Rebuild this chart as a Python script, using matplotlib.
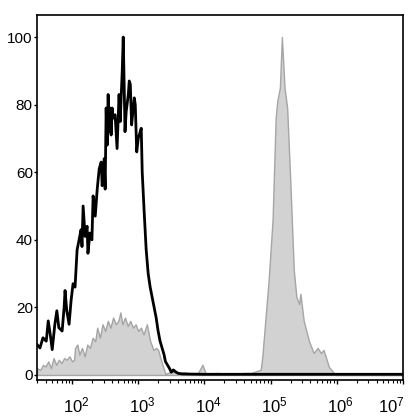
import numpy as np
import matplotlib
matplotlib.use("Agg")
import matplotlib.pyplot as plt
import matplotlib.transforms as mtransforms
from matplotlib.ticker import FixedLocator, LogLocator, NullFormatter

plt.rcParams['font.family'] = ['Liberation Sans', 'DejaVu Sans']
plt.rcParams['mathtext.fontset'] = 'custom'
plt.rcParams['mathtext.rm'] = 'Liberation Sans'
plt.rcParams['mathtext.it'] = 'Liberation Sans'

# black outline histogram (log10 of intensity, % of max)
black_logx = [1.47, 1.515, 1.56, 1.61, 1.64, 1.67, 1.70, 1.74, 1.77, 1.80, 1.85, 1.88,
              1.894, 1.92, 1.955, 1.985, 2.015, 2.045, 2.076, 2.106, 2.136, 2.15, 2.167,
              2.197, 2.227, 2.24, 2.27, 2.30, 2.318, 2.35, 2.38, 2.41, 2.44, 2.455, 2.485,
              2.50, 2.515, 2.53, 2.545, 2.56, 2.576, 2.59, 2.606, 2.62, 2.65, 2.68, 2.71,
              2.727, 2.758, 2.773, 2.788, 2.80, 2.818, 2.85, 2.864, 2.88, 2.90, 2.924,
              2.94, 2.955, 2.977, 3.0, 3.03, 3.045, 3.06, 3.09, 3.12, 3.15, 3.18, 3.21,
              3.24, 3.27, 3.30, 3.33, 3.36, 3.39, 3.41, 3.44, 3.47, 3.50, 3.53, 3.56,
              3.60, 3.67, 4.0, 5.0, 6.0, 7.0]
black_y = [9, 8, 11, 10, 16, 12, 7.5, 15, 19, 14, 13, 20,
           25, 19, 15, 22, 27, 26, 37, 40, 43, 38, 50,
           41, 44, 36, 42, 40, 53, 47, 55, 61, 63, 56, 64,
           55, 79, 68, 83, 72, 79, 71, 79, 76, 77, 67, 83,
           75, 90, 100, 85, 72, 78, 83, 87, 86, 74, 79,
           82, 80, 66, 70, 72, 73, 60, 48, 37, 30, 26, 23,
           20, 17, 13, 10, 8, 6, 4, 3, 2, 0.8, 1.5, 1,
           0.5, 0.3, 0.2, 0.2, 0.2, 0.2]

# gray filled histogram
gray_logx = [1.47, 1.52, 1.56, 1.60, 1.64, 1.68, 1.72, 1.76, 1.80, 1.84, 1.88, 1.92,
             1.96, 2.0, 2.03, 2.045, 2.08, 2.11, 2.15, 2.19, 2.23, 2.27, 2.31, 2.35,
             2.38, 2.42, 2.46, 2.50, 2.54, 2.58, 2.62, 2.66, 2.70, 2.73, 2.76, 2.80,
             2.84, 2.88, 2.92, 2.96, 3.0, 3.04, 3.08, 3.13, 3.18, 3.23, 3.27, 3.30,
             3.35, 3.41, 3.5, 3.6, 3.7, 3.8, 3.9, 3.97, 4.02, 4.2, 4.3, 4.4, 4.5,
             4.6, 4.70, 4.85, 4.875, 4.97, 5.03, 5.076, 5.10, 5.14, 5.17, 5.21, 5.25,
             5.30, 5.35, 5.39, 5.43, 5.45, 5.50, 5.58, 5.65, 5.71, 5.76, 5.80, 5.88,
             5.98, 7.0]
gray_y = [2, 1.5, 3, 2.5, 4, 2, 5, 3, 4.5, 3.5, 5, 4.5,
          5.5, 4, 4.5, 8, 9, 6, 8, 5.5, 9, 8, 11, 10,
          14, 11, 15, 13, 16, 14, 17, 15, 16, 18.5, 15, 17,
          14.5, 16, 14, 15, 13, 14, 12, 15, 10, 7.4, 8, 7.4,
          4, 0.3, 1, 0.5, 0.8, 0.3, 0.5, 3, 0.4, 0.6, 0.3, 0.5, 0.4,
          0.6, 0.6, 1.5, 5.5, 28, 46, 76, 81, 85, 100, 85, 79,
          56, 31, 23, 21, 24, 16, 10, 6.5, 8, 6.5, 7.4, 2.4,
          0, 0]

yticks = [0, 20, 40, 60, 80, 100]
xdecades = [2, 3, 4, 5, 6, 7]

fig = plt.figure(figsize=(4.11, 4.19), dpi=100)
ax = fig.add_axes([0.09, 0.093, 0.8905, 0.871])

ax.fill_between(10 ** np.array(gray_logx), gray_y, color='#d2d2d2',
                edgecolor='#a5a5a5', linewidth=1.0)
ax.plot(10 ** np.array(black_logx), black_y, color='black', linewidth=2)

ax.set_xscale('log')
ax.set_xlim(10 ** 1.47, 10 ** 7)
ax.set_ylim(-1.5, 106.5)

ax.xaxis.set_major_locator(FixedLocator([10 ** d for d in xdecades]))
ax.set_xticklabels(['$10^{%d}$' % d for d in xdecades])
ax.xaxis.set_minor_locator(LogLocator(base=10, subs=np.arange(2, 10), numticks=20))
ax.xaxis.set_minor_formatter(NullFormatter())
ax.tick_params(axis='x', which='major', length=3, width=1, pad=8, labelsize=12)
ax.tick_params(axis='x', which='minor', length=2, width=0.8)

# the "10" sits centred on each tick, the last label is pulled inside
labels = ax.get_xticklabels()
for i, lab in enumerate(labels):
    dx = 4 if i < len(labels) - 1 else -12
    lab.set_transform(lab.get_transform() +
                      mtransforms.ScaledTranslation(dx / 100, 0, fig.dpi_scale_trans))

ax.set_yticks(yticks)
ax.tick_params(axis='y', length=2, width=1, pad=1, labelsize=11)

for side in ax.spines.values():
    side.set_linewidth(1.2)
    side.set_color('black')

fig.savefig('out.png', dpi=100)
